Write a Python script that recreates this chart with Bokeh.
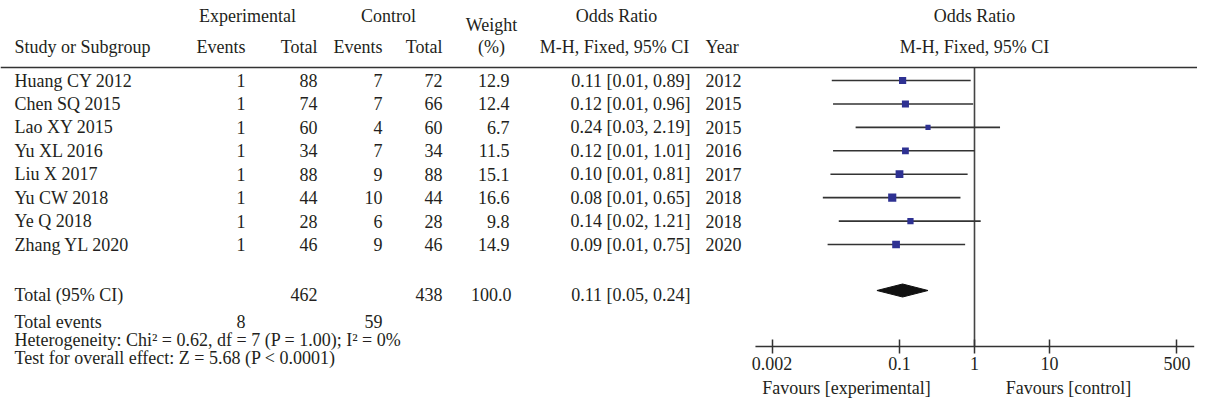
import math
from bokeh.plotting import figure
from bokeh.models import (Range1d, Span, FixedTicker, CustomJSTickFormatter,
                          LogScale, LogAxis)
from bokeh.core.properties import value
from bokeh.embed import file_html
from bokeh.resources import INLINE

# ---------------- data ----------------
studies = ["Huang CY 2012", "Chen SQ 2015", "Lao XY 2015", "Yu XL 2016",
           "Liu X 2017", "Yu CW 2018", "Ye Q 2018", "Zhang YL 2020"]
exp_events = [1, 1, 1, 1, 1, 1, 1, 1]
exp_total = [88, 74, 60, 34, 88, 44, 28, 46]
ctl_events = [7, 7, 4, 7, 9, 10, 6, 9]
ctl_total = [72, 66, 60, 34, 88, 44, 28, 46]
weight = [12.9, 12.4, 6.7, 11.5, 15.1, 16.6, 9.8, 14.9]
odds_ratio = [0.11, 0.12, 0.24, 0.12, 0.10, 0.08, 0.14, 0.09]
ci_low = [0.0125, 0.013, 0.026, 0.013, 0.012, 0.0095, 0.0155, 0.011]
ci_high = [0.89, 0.96, 2.19, 1.01, 0.81, 0.65, 1.21, 0.75]
years = [2012, 2015, 2015, 2016, 2017, 2018, 2018, 2020]

total_exp = 462
total_ctl = 438
total_weight = 100.0
total_or = 0.11
total_low = 0.05
total_high = 0.24
events_exp = 8
events_ctl = 59
heterogeneity = "Heterogeneity: Chi\u00b2 = 0.62, df = 7 (P = 1.00); I\u00b2 = 0%"
overall = "Test for overall effect: Z = 5.68 (P < 0.0001)"
tick_values = [0.002, 0.1, 1, 10, 500]
axis_extent = [0.0012, 850]          # OR values where the axis line ends
favours_at = [0.0196, 17.9]          # OR values where the captions are centred
favours = ["Favours [experimental]", "Favours [control]"]

# ---------------- style / layout ----------------
FONT = "Liberation Serif"
FS = "18px"
TXT = "#231f20"
LINE = "#333333"
ROW_Y0, ROW_DY = 88, 23.43
rows_y = [ROW_Y0 + i * ROW_DY for i in range(len(studies))]
Y_RULE = 75
Y_H1, Y_H2, Y_W = 23, 54, 32
Y_TOT, Y_DIAM, Y_EV, Y_HET, Y_TEST = 302, 298, 329, 347, 365
Y_AXIS, Y_FAV = 354, 395
PX_PER_DEC = 75.0
X_ONE = 982

p = figure(width=1197, height=399, x_range=Range1d(8, 1205), y_range=Range1d(407, 8),
           output_backend="svg", toolbar_location=None,
           x_axis_location=None, y_axis_location=None, min_border=0)
p.grid.visible = False
p.outline_line_color = None
p.background_fill_color = "white"
p.border_fill_color = "white"

# log scale for the odds-ratio panel: 75 px per decade, OR = 1 at x = 982
p.extra_x_ranges = {"or": Range1d(10 ** ((8 - X_ONE) / PX_PER_DEC),
                                  10 ** ((1205 - X_ONE) / PX_PER_DEC))}
p.extra_x_scales = {"or": LogScale()}


def txt(xs, ys, texts, align="left", rng="default"):
    p.text(x=xs, y=ys, text=texts, text_font=value(FONT), text_font_size=FS,
           text_color=TXT, text_align=align, text_baseline="middle",
           x_range_name=rng)


p.add_layout(Span(location=Y_RULE, dimension="width", line_color=LINE, line_width=1.5))

# ---------------- table ----------------
txt([255, 396, 624], [Y_H1] * 3, ["Experimental", "Control", "Odds Ratio"], "center")
txt([499], [Y_W], ["Weight"], "center")
txt([22], [Y_H2], ["Study or Subgroup"], "left")
txt([253, 325, 390, 450], [Y_H2] * 4, ["Events", "Total", "Events", "Total"], "right")
txt([499, 622], [Y_H2] * 2, ["(%)", "M-H, Fixed, 95% CI"], "center")
txt([713], [Y_H2], ["Year"], "left")

n = len(studies)
txt([22] * n, rows_y, studies, "left")
txt([253] * n, rows_y, [str(v) for v in exp_events], "right")
txt([325] * n, rows_y, [str(v) for v in exp_total], "right")
txt([390] * n, rows_y, [str(v) for v in ctl_events], "right")
txt([450] * n, rows_y, [str(v) for v in ctl_total], "right")
txt([517] * n, rows_y, [f"{v:.1f}" for v in weight], "right")
txt([698] * n, rows_y,
    [f"{o:.2f} [{l:.2f}, {h:.2f}]" for o, l, h in zip(odds_ratio, ci_low, ci_high)], "right")
txt([713] * n, rows_y, [str(y) for y in years], "left")

txt([22], [Y_TOT], ["Total (95% CI)"], "left")
txt([325, 450, 519, 698], [Y_TOT] * 4,
    [str(total_exp), str(total_ctl), f"{total_weight:.1f}",
     f"{total_or:.2f} [{total_low:.2f}, {total_high:.2f}]"], "right")
txt([22], [Y_EV], ["Total events"], "left")
txt([253, 390], [Y_EV] * 2, [str(events_exp), str(events_ctl)], "right")
txt([22], [Y_HET], [heterogeneity], "left")
txt([22], [Y_TEST], [overall], "left")

# ---------------- forest plot ----------------
txt([1, 1], [Y_H1, Y_H2], ["Odds Ratio", "M-H, Fixed, 95% CI"], "center", "or")

p.segment(x0=[1], y0=[Y_RULE], x1=[1], y1=[Y_AXIS], line_color="#444444",
          line_width=1.6, x_range_name="or")
p.segment(x0=ci_low, y0=rows_y, x1=ci_high, y1=rows_y, line_color=LINE,
          line_width=1.6, x_range_name="or")
p.scatter(x=odds_ratio, y=rows_y, marker="square",
          size=[2.0 * math.sqrt(w) for w in weight],
          fill_color="#2e3192", line_color=None, x_range_name="or")
p.patch(x=[total_low, total_or, total_high, total_or],
        y=[Y_DIAM, Y_DIAM - 6.5, Y_DIAM, Y_DIAM + 6.5],
        fill_color="#111111", line_color="#111111", x_range_name="or")

# axis line (only over the plot panel)
p.segment(x0=[axis_extent[0]], y0=[Y_AXIS], x1=[axis_extent[1]], y1=[Y_AXIS],
          line_color=LINE, line_width=1.5, x_range_name="or")

ax = LogAxis(x_range_name="or", fixed_location=Y_AXIS,
             ticker=FixedTicker(ticks=tick_values),
             formatter=CustomJSTickFormatter(code="return tick.toString();"))
ax.axis_line_color = None
ax.major_tick_in = 7
ax.major_tick_out = 7
ax.minor_tick_line_color = None
ax.major_tick_line_color = LINE
ax.major_tick_line_width = 1.5
ax.major_label_text_font = FONT
ax.major_label_text_font_size = FS
ax.major_label_text_color = TXT
ax.major_label_standoff = 3
p.add_layout(ax, "below")

txt(favours_at, [Y_FAV] * 2, favours, "center", "or")

open("out.html", "w").write(file_html(p, INLINE, title="Forest plot"))
